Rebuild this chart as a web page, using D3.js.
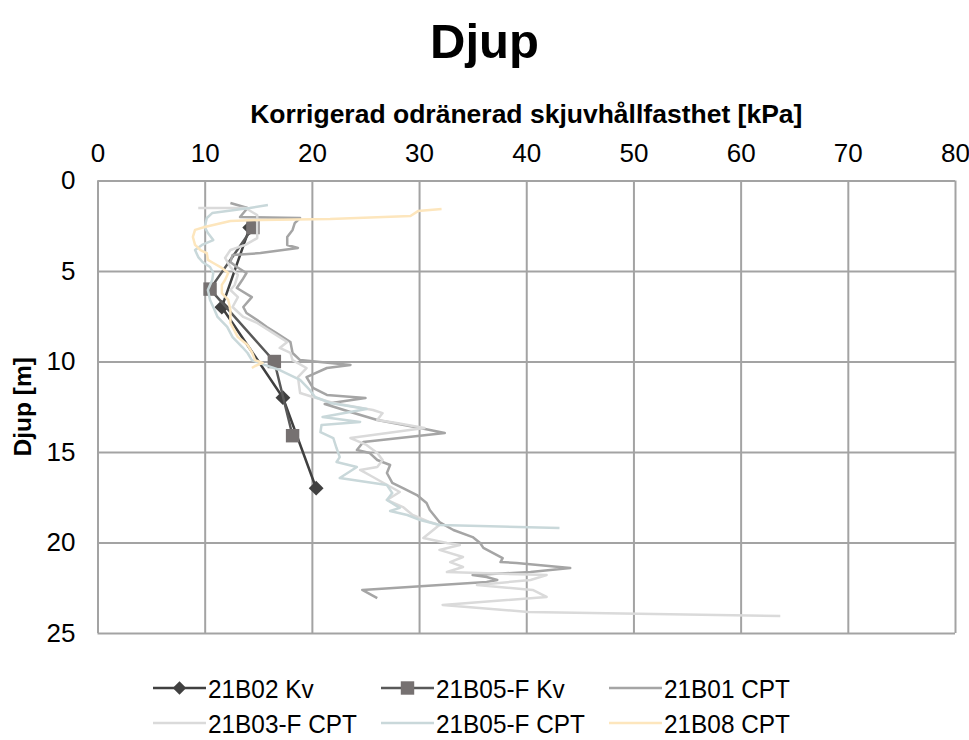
<!DOCTYPE html>
<html>
  <head>
    <title>Djup</title>
    <style>
      body,
      html {
        margin: 0;
        padding: 0;
        background: #fff;
      }
      svg text {
        font-family: 'Liberation Sans', Arial, sans-serif;
        fill: #000;
      }
    </style>
  </head>
  <body>
    <svg id="svg" width="969" height="740"></svg>

    <script src="https://cdn.jsdelivr.net/npm/d3@7"></script>
    <script>
      // [skjuvhållfasthet kPa, djup m]
      const b02Kv = [[14.2, 2.6], [11.6, 7.0], [17.3, 12.0], [20.4, 17.0]];
      const b05Kv = [[14.5, 2.6], [10.5, 6.0], [16.5, 10.0], [18.2, 14.1]];

      const b01Cpt = [
        [12.4, 1.24], [14.0, 1.52], [13.3, 2.02], [18.9, 2.07], [18.4, 2.35],
        [18.2, 2.73], [17.7, 3.12], [17.7, 3.56], [18.7, 3.73], [15.2, 4.01],
        [12.6, 4.12], [12.4, 4.5], [13.0, 4.78], [13.9, 5.11], [13.5, 5.5],
        [13.0, 5.94], [14.4, 6.44], [13.6, 6.99], [13.9, 7.32], [14.9, 7.71],
        [15.8, 8.09], [16.7, 8.43], [18.0, 8.92], [18.2, 9.53], [18.9, 9.92],
        [23.6, 10.19], [21.4, 10.36], [19.5, 10.86], [20.1, 11.46], [21.4, 11.85],
        [25.0, 12.02], [21.2, 12.35], [23.6, 12.79], [26.1, 13.23], [30.1, 13.67],
        [32.4, 13.95], [24.8, 14.45], [24.2, 14.89], [25.4, 15.06], [26.1, 15.44],
        [27.3, 15.72], [27.0, 16.16], [27.5, 16.71], [28.5, 16.99], [29.8, 17.38],
        [30.7, 17.82], [31.0, 18.2], [31.9, 18.87], [33.2, 19.31], [35.0, 19.7],
        [35.7, 20.03], [36.0, 20.3], [37.8, 20.86], [37.6, 21.08], [39.1, 21.13],
        [44.1, 21.41], [40.4, 21.63], [35.0, 21.8], [36.3, 21.91], [37.3, 22.07],
        [36.3, 22.18], [24.7, 22.62], [26.1, 23.07]
      ];

      const b03Cpt = [
        [9.4, 1.52], [13.8, 1.52], [14.9, 1.91], [14.9, 2.29], [14.9, 3.18],
        [13.8, 3.56], [12.4, 3.84], [11.9, 4.28], [12.4, 4.78], [13.1, 5.22],
        [12.8, 5.77], [12.4, 6.05], [13.1, 6.44], [12.6, 6.99], [13.6, 7.54],
        [14.9, 7.87], [16.4, 8.43], [17.7, 8.92], [17.0, 9.25], [18.0, 9.53],
        [18.2, 9.92], [19.5, 10.36], [18.7, 10.86], [18.9, 11.74], [20.1, 11.96],
        [22.0, 12.29], [25.7, 12.68], [26.6, 12.85], [26.1, 13.23], [27.9, 13.4],
        [30.5, 13.67], [23.6, 14.23], [25.1, 14.61], [26.1, 15.06], [26.6, 15.44],
        [26.1, 15.83], [24.5, 15.99], [25.7, 16.38], [28.2, 17.21], [27.0, 17.65],
        [28.5, 18.04], [29.4, 18.48], [31.0, 18.87], [31.9, 19.03], [30.4, 19.75],
        [32.6, 20.03], [33.8, 20.14], [31.9, 20.41], [34.1, 20.8], [32.9, 21.08],
        [34.1, 21.35], [32.6, 21.63], [41.9, 21.8], [40.4, 22.07], [35.4, 22.35],
        [40.6, 22.62], [41.9, 23.01], [32.2, 23.45], [40.2, 23.84], [63.7, 24.06]
      ];

      const b05Cpt = [
        [15.9, 1.35], [14.2, 1.52], [10.7, 1.8], [10.2, 2.07], [10.0, 2.57],
        [10.3, 2.9], [10.8, 3.29], [9.75, 3.56], [9.1, 3.84], [9.4, 4.23],
        [9.8, 4.5], [10.5, 4.78], [10.8, 5.11], [10.7, 5.5], [10.3, 6.05],
        [10.5, 6.6], [10.8, 6.99], [11.2, 7.54], [12.1, 8.09], [12.6, 8.65],
        [13.5, 9.2], [14.0, 9.53], [14.4, 9.92], [15.6, 10.19], [17.0, 10.47],
        [18.9, 11.02], [19.8, 11.57], [20.3, 11.96], [21.7, 12.29], [25.1, 12.62],
        [21.0, 13.07], [24.5, 13.34], [20.9, 13.51], [20.8, 13.9], [22.0, 14.23],
        [22.3, 14.78], [22.6, 15.28], [22.3, 15.55], [24.2, 15.83], [22.6, 16.44],
        [27.0, 16.82], [27.5, 17.27], [27.0, 17.65], [28.2, 18.09], [27.3, 18.26],
        [28.9, 18.48], [30.1, 18.76], [31.9, 19.03], [43.1, 19.2]
      ];

      const b08Cpt = [
        [32.1, 1.57], [29.9, 1.69], [29.2, 1.96], [21.7, 2.13], [15.2, 2.18],
        [12.4, 2.24], [10.0, 2.57], [9.1, 2.73], [8.9, 3.12], [9.1, 3.56],
        [9.6, 3.84], [10.2, 4.01], [10.3, 4.39], [10.8, 4.56], [11.6, 4.83],
        [12.2, 5.11], [11.9, 5.5], [11.6, 5.77], [11.6, 6.22], [12.2, 6.6],
        [12.4, 7.15], [12.4, 7.87], [13.1, 8.65], [14.0, 9.09], [14.4, 9.48],
        [14.7, 9.92], [15.4, 10.08], [14.7, 10.25], [14.4, 10.36]
      ];

      const xTicks = [0, 10, 20, 30, 40, 50, 60, 70, 80];
      const yTicks = [0, 5, 10, 15, 20, 25];

      const series = [
        { name: '21B02 Kv', data: b02Kv, color: '#404040', marker: 'diamond' },
        { name: '21B05-F Kv', data: b05Kv, color: '#595959', marker: 'square', markerColor: '#767171' },
        { name: '21B01 CPT', data: b01Cpt, color: '#a5a5a5' },
        { name: '21B03-F CPT', data: b03Cpt, color: '#dadada' },
        { name: '21B05-F CPT', data: b05Cpt, color: '#c9d8da' },
        { name: '21B08 CPT', data: b08Cpt, color: '#fde6bd' }
      ];

      const width = 969;
      const plotLeft = 97.5;
      const plotRight = 955;
      const plotTop = 180.5;
      const plotBottom = 633;

      const svg = d3.select('#svg');

      const xScale = d3.scaleLinear().domain([0, 80]).range([plotLeft, plotRight]);
      const yScale = d3.scaleLinear().domain([0, 25]).range([plotTop, plotBottom]);

      // grid
      svg
        .append('g')
        .attr('transform', `translate(0, ${plotTop})`)
        .call(d3.axisTop(xScale).tickValues(xTicks).tickSize(-(plotBottom - plotTop)).tickFormat(''))
        .call((g) => g.select('.domain').remove())
        .selectAll('line')
        .attr('stroke', '#a3a3a3')
        .attr('stroke-width', 2);
      svg
        .append('g')
        .attr('transform', `translate(${plotLeft}, 0)`)
        .call(d3.axisLeft(yScale).tickValues(yTicks).tickSize(-(plotRight - plotLeft)).tickFormat(''))
        .call((g) => g.select('.domain').remove())
        .selectAll('line')
        .attr('stroke', '#a3a3a3')
        .attr('stroke-width', 2);

      // tick labels
      const xAxis = svg
        .append('g')
        .attr('transform', `translate(0, ${plotTop - 19})`)
        .call(d3.axisTop(xScale).tickValues(xTicks).tickSize(0).tickPadding(0));
      xAxis.select('.domain').remove();
      xAxis.selectAll('text').style('font-size', '26px').attr('fill', '#000');

      const yAxis = svg
        .append('g')
        .attr('transform', `translate(${plotLeft - 22}, 0)`)
        .call(d3.axisLeft(yScale).tickValues(yTicks).tickSize(0).tickPadding(0));
      yAxis.select('.domain').remove();
      yAxis.selectAll('text').style('font-size', '26px').attr('fill', '#000');

      // titles
      svg
        .append('text')
        .attr('x', width / 2)
        .attr('y', 58)
        .attr('text-anchor', 'middle')
        .style('font-size', '49px')
        .style('font-weight', 'bold')
        .text('Djup');
      svg
        .append('text')
        .attr('x', (plotLeft + plotRight) / 2)
        .attr('y', 123)
        .attr('text-anchor', 'middle')
        .style('font-size', '26.5px')
        .style('font-weight', 'bold')
        .text('Korrigerad odränerad skjuvhållfasthet [kPa]');
      svg
        .append('text')
        .attr('transform', `translate(31, ${(plotTop + plotBottom) / 2}) rotate(-90)`)
        .attr('text-anchor', 'middle')
        .style('font-size', '24.5px')
        .style('font-weight', 'bold')
        .text('Djup [m]');

      const linegen = d3
        .line()
        .x((d) => xScale(d[0]))
        .y((d) => yScale(d[1]));

      const markerPath = (s, big) =>
        d3.symbol().type(d3.symbolSquare).size(s.marker === 'diamond' ? (big ? 110 : 90) : 180)();
      const markerRot = (s) => (s.marker === 'diamond' ? ' rotate(45)' : '');

      const plot = svg.append('g');
      series.forEach((s) => {
        plot
          .append('path')
          .attr('d', linegen(s.data))
          .attr('fill', 'none')
          .attr('stroke', s.color)
          .attr('stroke-width', 2.5)
          .attr('stroke-linejoin', 'round');
        if (s.marker) {
          plot
            .selectAll(null)
            .data(s.data)
            .join('path')
            .attr('d', markerPath(s, true))
            .attr('transform', (d) => `translate(${xScale(d[0])}, ${yScale(d[1])})` + markerRot(s))
            .attr('fill', s.markerColor || s.color);
        }
      });

      // legend
      const legendCols = [153, 381, 609];
      const legendRows = [688, 723];
      const legend = svg.append('g');
      series.forEach((s, i) => {
        const lx = legendCols[i % 3];
        const ly = legendRows[Math.floor(i / 3)];
        const g = legend.append('g').attr('transform', `translate(${lx}, ${ly})`);
        g.append('line')
          .attr('x1', 0)
          .attr('x2', 53)
          .attr('y1', 0)
          .attr('y2', 0)
          .attr('stroke', s.color)
          .attr('stroke-width', 2.5);
        if (s.marker) {
          g.append('path')
            .attr('d', markerPath(s, false))
            .attr('transform', 'translate(26.5, 0)' + markerRot(s))
            .attr('fill', s.markerColor || s.color);
        }
        g.append('text')
          .attr('transform', 'translate(55, 9.5) scale(0.92, 1)')
          .style('font-size', '26.5px')
          .text(s.name);
      });
    </script>
  </body>
</html>
